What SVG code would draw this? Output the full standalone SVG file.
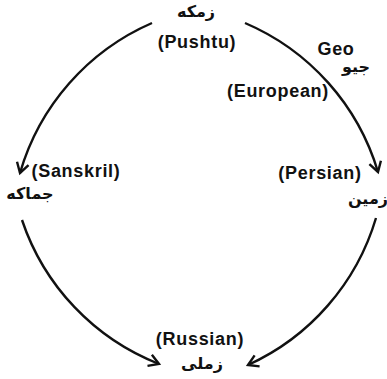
<svg xmlns="http://www.w3.org/2000/svg" width="387" height="379" viewBox="0 0 387 379">
<style>
.lat{font-family:"Liberation Sans",Arial,sans-serif;font-size:18px;font-weight:bold;letter-spacing:0.7px;fill:#111;text-anchor:middle}
.ar{font-family:"DejaVu Sans","Noto Sans",sans-serif;font-size:16px;font-weight:bold;fill:#111;text-anchor:middle}
.edge{fill:none;stroke:#111;stroke-width:2.4;marker-end:url(#arr)}
</style>
<defs>
<marker id="arr" markerUnits="userSpaceOnUse" markerWidth="16" markerHeight="16" viewBox="-13 -8 16 16" refX="0" refY="0" orient="auto">
<path d="M-10,-6 L0,0 L-10,6" fill="none" stroke="#111" stroke-width="2.4" stroke-linejoin="miter"/>
</marker>
</defs>
<rect width="387" height="379" fill="#fff"/>
<g id="connectors">
<path class="edge" d="M152,23 A235,235 0 0 0 20,173"/>
<path class="edge" d="M245,23 A235,235 0 0 1 378,172"/>
<path class="edge" d="M22,220 A235,235 0 0 0 159,364"/>
<path class="edge" d="M376,218 A235,235 0 0 1 248,365"/>
</g>
<g id="pushtu">
<text class="ar" x="196" y="17">زمکه</text>
<text class="lat" x="197" y="48">(Pushtu)</text>
</g>
<g id="european">
<text class="lat" x="336" y="55">Geo</text>
<text class="ar" x="356" y="72">جیو</text>
<text class="lat" x="278" y="97">(European)</text>
</g>
<g id="sanskrit">
<text class="lat" x="76" y="177">(Sanskril)</text>
<text class="ar" x="30" y="199">جماکه</text>
</g>
<g id="persian">
<text class="lat" x="320" y="179">(Persian)</text>
<text class="ar" x="368" y="204">زمین</text>
</g>
<g id="russian">
<text class="lat" x="200" y="345">(Russian)</text>
<text class="ar" x="202" y="369">زملی</text>
</g>
</svg>
